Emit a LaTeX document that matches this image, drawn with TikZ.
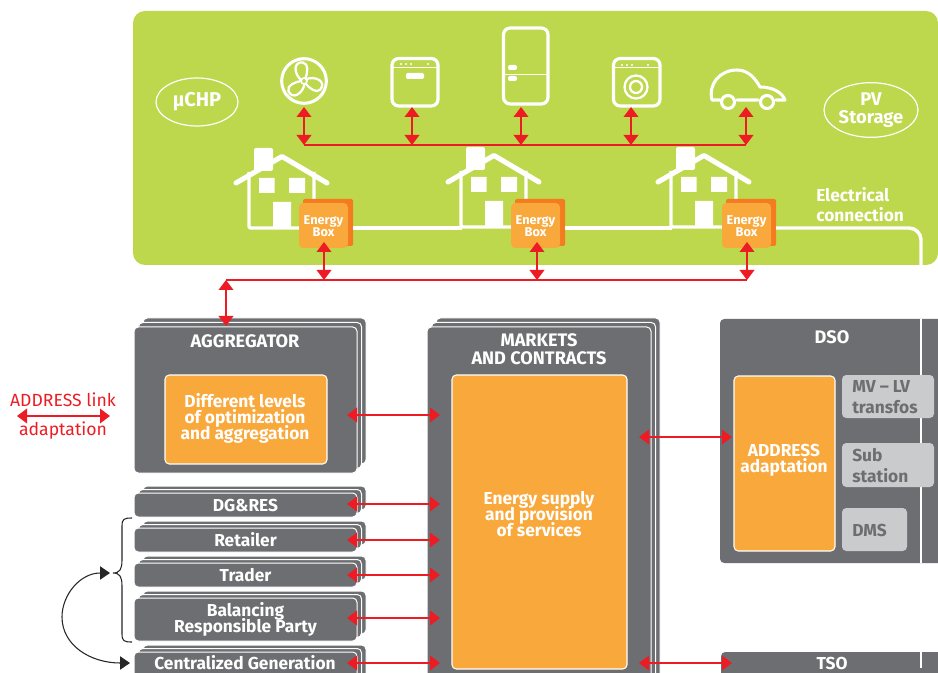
\documentclass[tikz,border=0pt]{standalone}
\usepackage{fontspec}
\setmainfont{Fira Sans}
\usetikzlibrary{arrows.meta,shapes.geometric}
\definecolor{panelgreen}{HTML}{BDD84C}
\definecolor{slate}{HTML}{6D6E71}
\definecolor{amber}{HTML}{F9A83B}
\definecolor{amberdark}{HTML}{F47B20}
\definecolor{silver}{HTML}{C9CBCC}
\definecolor{linkred}{HTML}{ED1C24}
\newcommand\tightlines{\lineskiplimit=-20pt\relax}
\newcommand\labelfont{\tightlines\bfseries\fontsize{13}{12}\selectfont}
\newcommand\capsfont{\tightlines\bfseries\fontsize{13.6}{13.5}\selectfont}
\newcommand\greyfont{\tightlines\bfseries\fontsize{13}{15.8}\selectfont}
\newcommand\redfont{\fontsize{13.2}{14}\selectfont}
\newcommand\smallfont{\tightlines\bfseries\fontsize{9.6}{9}\selectfont}
\tikzset{
  x=0.75pt,y=-0.75pt,
  redlink/.style={draw=linkred,line width=1.1pt,{Triangle[length=7.5pt,width=11pt]}-{Triangle[length=7.5pt,width=11pt]}},
  busline/.style={draw=linkred,line width=1.1pt},
  whiteline/.style={draw=white,line width=2.6pt,line join=round},
  blackcurve/.style={draw=black!85,line width=.8pt},
  boxshape/.style={rectangle,inner sep=0pt,outer sep=0pt,rounded corners=3.2pt},
  layer/.style={boxshape,fill=slate,draw=white,line width=.75pt},
  ambernode/.style={boxshape,fill=amber,draw=white,line width=.8pt},
  ambertext/.style={text=white,align=center,font=\labelfont,inner sep=0pt},
  greynode/.style={boxshape,fill=silver},
  greytext/.style={text=slate,align=left,font=\greyfont,inner sep=0pt},
  title/.style={text=white,align=center,font=\capsfont,inner sep=0pt},
  oval/.style={ellipse,draw=white,line width=.9pt,text=white,align=center,inner sep=0pt},
  redtext/.style={text=linkred,font=\redfont,inner sep=0pt},
  ebox/.style={boxshape,fill=amber,text=white,align=center,font=\smallfont},
  appliance/.style={boxshape,rounded corners=5pt,draw=white,line width=2.4pt},
}
% name x1 y1 x2 y2 style text
\newcommand\boxat[7]{%
  \pgfmathsetmacro\bw{(#4-(#2))*0.75}\pgfmathsetmacro\bh{(#5-(#3))*0.75}%
  \node[#6,minimum width=\bw pt,minimum height=\bh pt] (#1) at ({(#2+#4)/2},{(#3+#5)/2}) {#7};}
% name x1 y1 x2 y2 dy text
\newcommand\stacked[7]{%
  \path[layer] ({#2+9},{#3-2*#6}) rectangle ({#4+9},{#5-2*#6});
  \path[layer] ({#2+4.5},{#3-#6}) rectangle ({#4+4.5},{#5-#6});
  \boxat{#1}{#2}{#3}{#4}{#5}{layer,text=white,align=center,font=\labelfont}{#7}}
\newcommand\house[2]{%
  \begin{scope}[shift={(#1,#2)}]
    \fill[white,rounded corners=1.5pt] (254,171) rectangle (273,148);
    \draw[whiteline,line width=3.8pt,line cap=round] (236,183) -- (282,156.5) -- (327,183);
    \draw[whiteline,rounded corners=1pt] (249,172) -- (249,228) -- (314,228) -- (314,172);
    \fill[white] (259,178) rectangle (274.5,193) (289,178) rectangle (305,193) (273,202) rectangle (291,228);
  \end{scope}}
\newcommand\energybox[2]{%
  \fill[amberdark,rounded corners=1.5pt] ({#2+4},199) rectangle ({#2+54},246);
  \boxat{#1}{#2}{203}{#2+49}{248}{ebox}{}
  \node[text=white,align=center,font=\smallfont,inner sep=0pt] (#1L) at ({#2+24.5},226) {Energy\\Box};}
\begin{document}
\begin{tikzpicture}
\useasboundingbox (0,0) rectangle (938,673);
\clip (0,0) rectangle (938,673);
\fill[white] (0,0) rectangle (938,673);
% home panel
\boxat{home}{133}{11}{938}{265}{boxshape,rounded corners=9pt,fill=panelgreen}{}
\node[oval,minimum width=61.5pt,minimum height=36pt,font={\bfseries\fontsize{15}{15}\selectfont}] (chp) at (197,102) {µCHP};
\node[oval,minimum width=70.5pt,minimum height=41pt,font={\tightlines\bfseries\fontsize{13.8}{13.5}\selectfont}] (pv) at (871,110) {PV\\Storage};
% appliances
\node[circle,draw=white,line width=2.3pt,minimum size=33.5pt,inner sep=0pt] (fan) at (304,81) {};
\foreach \a in {80,200,320}{
  \begin{scope}[shift={(304,81)},rotate=\a]
    \draw[white,line width=1.7pt,line join=round] (0,-2) .. controls (5,-12) and (18,-14) .. (18,-4) .. controls (18,2) and (8,2) .. (3,1);
  \end{scope}}
\node[circle,draw=white,line width=1.2pt,minimum size=4.5pt,inner sep=0pt] (hub) at (304,81) {};
\boxat{oven}{392}{58.5}{438}{106}{appliance}{}
\draw[white,line width=1.2pt] (oven.west |- 0,67.5) -- (oven.east |- 0,67.5);
\foreach \x in {401,406,411,428}{\fill[white] (\x,64) circle (1.1);}
\fill[white,rounded corners=1pt] (406,73) rectangle (424,79);
\boxat{fridge}{503.5}{28}{548}{104}{appliance}{}
\draw[white,line width=1.2pt] (fridge.west |- 0,74.5) -- (fridge.east |- 0,74.5);
\fill[white,rounded corners=1.5pt] (508,65) rectangle (517,70) (508,76) rectangle (517,81);
\boxat{washer}{613.5}{58.5}{660}{106}{appliance}{}
\draw[white,line width=1.2pt] (washer.west |- 0,67.5) -- (washer.east |- 0,67.5);
\foreach \x in {622,627,632,648}{\fill[white] (\x,65) circle (1.1);}
\draw[white,line width=1.7pt] (636,87) circle (11.5) (636,87) circle (6);
\node[inner sep=0pt,minimum size=1pt] (car) at (748,90) {};
\draw[white,line width=2.3pt,line join=round,line cap=round]
  (720,100) -- (712,100) .. controls (708,84) and (720,70) .. (737,70) .. controls (748,70) and (755,78) .. (760,87)
  .. controls (772,87) and (782,92) .. (785,100) -- (776,100) (758,100) -- (737,100);
\draw[white,line width=2.3pt] (728,102) circle (6.5) (767,102) circle (6.5);
% houses
\house{0}{0}
\house{212}{-1}
\house{422}{-1}
% energy boxes
\energybox{ebA}{299}
\energybox{ebB}{511}
\energybox{ebC}{722}
% electrical connection
\coordinate (wireAs) at (353,228);
\coordinate (wireAe) at (462,228);
\coordinate (wireBs) at (565,228);
\coordinate (wireBe) at (672,228);
\coordinate (wireCs) at (776,228);
\coordinate (wireCc) at (921,228);
\coordinate (wireCe) at (921,265);
\draw[whiteline] (wireAs) -- (wireAe);
\draw[whiteline] (wireBs) -- (wireBe);
\draw[whiteline,rounded corners=9pt] (wireCs) -- (wireCc) -- (wireCe);
\node[text=white,align=left,font={\tightlines\bfseries\fontsize{13}{15}\selectfont},inner sep=0pt,anchor=west] (elec) at (816,205) {Electrical\\connection};
% appliance bus
\coordinate (busA) at (304,145);
\coordinate (busB) at (412,145);
\coordinate (busC) at (521,145);
\coordinate (busD) at (631,145);
\coordinate (busE) at (746,145);
\coordinate (upA) at (304,107);
\coordinate (upB) at (412,107);
\coordinate (upC) at (521,107);
\coordinate (upD) at (631,107);
\coordinate (upE) at (746,107);
\draw[busline] (busA) -- (busE);
\draw[redlink] (upA) -- (busA);
\draw[redlink] (upB) -- (busB);
\draw[redlink] (upC) -- (busC);
\draw[redlink] (upD) -- (busD);
\draw[redlink] (upE) -- (busE);
% left column
\stacked{aggr}{134}{327}{357}{473}{4.5}{}
\node[title] (aggrT) at (245,341) {AGGREGATOR};
\boxat{aggrI}{165}{375}{327}{464}{ambernode}{}
\node[ambertext] (aggrL) at (245,418) {Different levels\\of optimization\\and aggregation};
\stacked{dgres}{134}{493}{357}{517}{3.5}{DG\&RES}
\stacked{retail}{134}{528}{357}{552}{3.5}{Retailer}
\stacked{trader}{134}{563}{357}{587}{3.5}{Trader}
\stacked{brp}{134}{598}{357}{641}{3.5}{Balancing\\Responsible Party}
\stacked{cgen}{134}{652}{357}{690}{3.5}{}
\node[ambertext] (cgenT) at (245,663) {Centralized Generation};
% markets
\stacked{mkt}{427}{327}{651}{700}{4.5}{}
\node[title] (mktT) at (539,349) {MARKETS\\AND CONTRACTS};
\boxat{mktI}{452}{375}{627}{669}{ambernode}{}
\node[ambertext] (mktL) at (539,514) {Energy supply\\and provision\\of services};
% DSO
\boxat{dso}{720}{319}{945}{563}{layer,draw=none}{}
\draw[white,line width=2pt] (921,319) -- (921,563);
\node[title] (dsoT) at (832,337) {DSO};
\boxat{dsoI}{734}{376}{835}{551}{ambernode}{}
\node[ambertext] (dsoL) at (784,460) {ADDRESS\\adaptation};
\boxat{mv}{842}{375}{934}{418}{greynode}{}
\boxat{sub}{842}{443}{934}{487}{greynode}{}
\boxat{dms}{842}{508}{907}{551}{greynode}{}
\node[greytext,anchor=west] (mvT) at (852,397) {MV – LV\\transfos};
\node[greytext,anchor=west] (subT) at (852,465.5) {Sub\\station};
\node[greytext,anchor=west] (dmsT) at (852,530) {DMS};
% TSO
\boxat{tso}{721}{652}{945}{700}{layer,draw=none}{}
\draw[white,line width=2pt] (921,652) -- (921,668);
\node[ambertext] (tsoT) at (832,663.5) {TSO};
% second bus
\coordinate (hubA) at (324,280);
\coordinate (hubB) at (537,280);
\coordinate (hubC) at (747,280);
\coordinate (hubD) at (226,280);
\coordinate (ebAs) at (324,242);
\coordinate (ebBs) at (537,242);
\coordinate (ebCs) at (747,242);
\coordinate (aggrIn) at (226,326);
\draw[busline] (hubD) -- (hubC);
\draw[redlink] (ebAs) -- (hubA);
\draw[redlink] (ebBs) -- (hubB);
\draw[redlink] (ebCs) -- (hubC);
\draw[redlink] (hubD) -- (aggrIn);
% market links
\foreach \n/\yy in {a/415,b/504,c/540,d/575,e/618,f/663}{
  \coordinate (l\n) at (347,\yy);
  \coordinate (r\n) at (440,\yy);
  \draw[redlink] (l\n) -- (r\n);
}
\coordinate (mktDso) at (639,437);
\coordinate (dsoIn) at (732,437);
\coordinate (mktTso) at (639,663);
\coordinate (tsoIn) at (732,663);
\draw[redlink] (mktDso) -- (dsoIn);
\draw[redlink] (mktTso) -- (tsoIn);
% legend
\node[redtext] (legA) at (63,400) {ADDRESS link};
\node[redtext] (legB) at (63,431) {adaptation};
\coordinate (legL) at (17,416);
\coordinate (legR) at (110,416);
\draw[redlink] (legL) -- (legR);
% brace and loop
\coordinate (braceTop) at (132,518);
\coordinate (braceTip) at (113,573);
\coordinate (braceBot) at (132,642);
\draw[blackcurve] (braceTop) .. controls (124,518) and (122,519) .. (122,526) -- (122,560) .. controls (122,569) and (120,573) .. (braceTip)
  .. controls (120,573) and (122,577) .. (122,586) -- (122,634) .. controls (122,641) and (124,642) .. (braceBot);
\coordinate (loopA) at (110,573);
\coordinate (loopB) at (130,663);
\draw[blackcurve,{Triangle[length=7.5pt,width=10pt]}-{Triangle[length=7.5pt,width=10pt]}] (loopA) .. controls (80,573) and (62,595) .. (62,617) .. controls (62,645) and (90,663) .. (loopB);
\end{tikzpicture}
\end{document}
